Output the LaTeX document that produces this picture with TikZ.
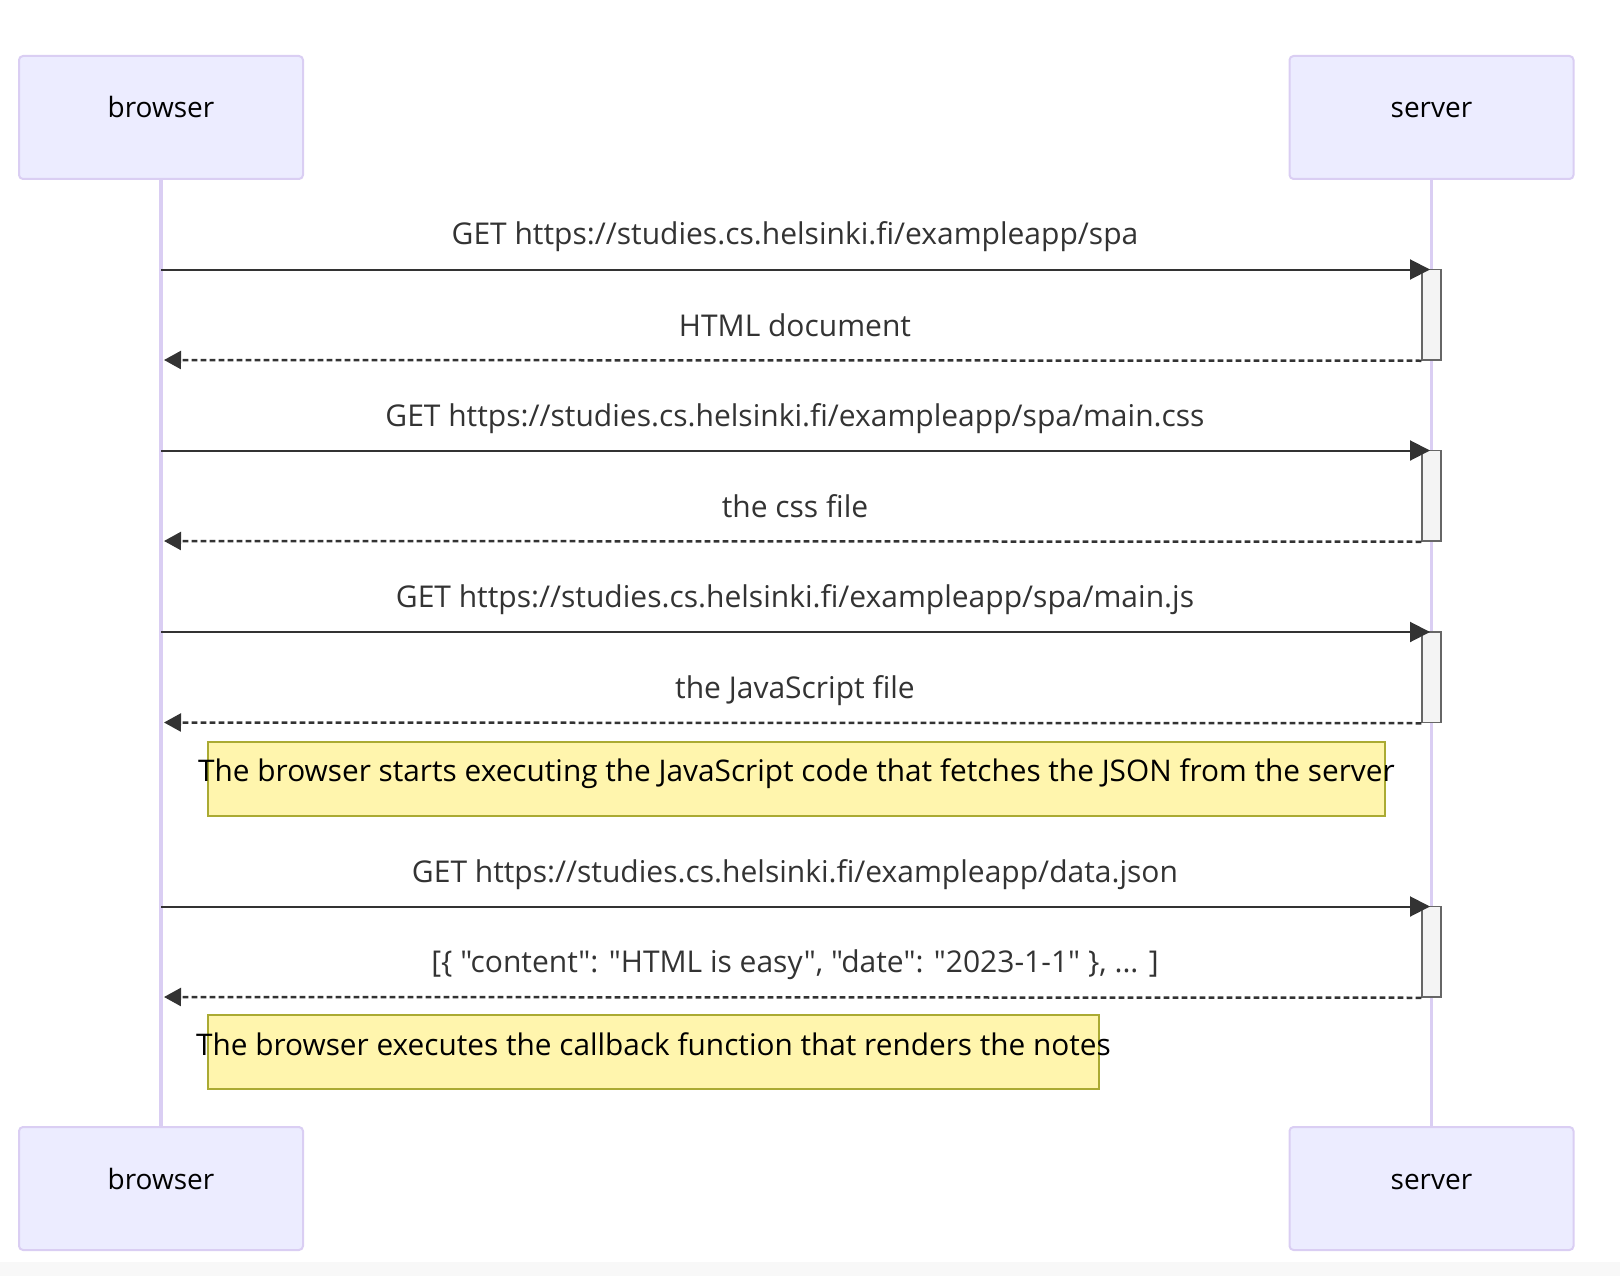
\documentclass[tikz,border=0pt]{standalone}
\usepackage{fontspec}
\newfontfamily\diagfont[Ligatures=NoCommon]{Open Sans}
\usetikzlibrary{arrows.meta}
\definecolor{actorfill}{HTML}{ECECFF}
\definecolor{actorline}{HTML}{DACEF3}
\definecolor{msgcol}{HTML}{333333}
\definecolor{actfill}{HTML}{F4F4F4}
\definecolor{actline}{HTML}{666666}
\definecolor{notefill}{HTML}{FFF5AD}
\definecolor{noteline}{HTML}{AAAA33}
\definecolor{bandgray}{HTML}{F8F8F8}
\begin{document}
\begin{tikzpicture}[x=1pt,y=-1pt,
  font=\diagfont\fontsize{28}{34}\selectfont,
  actorbox/.style={draw=actorline, fill=actorfill, line width=2pt, rounded corners=4pt,
    minimum width=284pt, minimum height=123pt, inner sep=0pt},
  actortext/.style={anchor=base, text=black, inner sep=0pt},
  lifeline/.style={draw=actorline, line width=3.5pt},
  actbox/.style={draw=actline, fill=actfill, line width=1.5pt, minimum width=19pt, inner sep=0pt},
  req/.style={draw=msgcol, line width=2pt, -{Triangle[length=20pt,width=20pt]}},
  resp/.style={draw=msgcol, line width=2.5pt, dash pattern=on 5.7pt off 3.3pt, -{Triangle[length=17pt,width=18pt]}},
  msglabel/.style={anchor=base, text=msgcol, inner sep=0pt, font=\diagfont\fontsize{30}{36}\selectfont},
  notebox/.style={draw=noteline, fill=notefill, line width=2pt, inner sep=0pt},
  notetext/.style={anchor=base, text=black, inner sep=0pt, font=\diagfont\fontsize{29.8}{36}\selectfont}]
\useasboundingbox (0,0) rectangle (1620,1276);
\fill[bandgray] (0,1262) rectangle (1620,1276);

% actors
\node[actorbox] (bTop) at (161,117.5) {};
\node[actorbox] (sTop) at (1431.5,117.5) {};
\node[actorbox] (bBot) at (161,1188.5) {};
\node[actorbox] (sBot) at (1431.5,1188.5) {};
\node[actortext] (bTopT) at (161,118) {browser};
\node[actortext] (sTopT) at (1431.5,118) {server};
\node[actortext] (bBotT) at (161,1189) {browser};
\node[actortext] (sBotT) at (1431.5,1189) {server};

% lifelines
\draw[lifeline] (bTop.south) -- (bBot.north);
\draw[lifeline] (sTop.south) -- (sBot.north);

% activations
\node[actbox, minimum height=90.5pt] (a1) at (1431.5,314.75) {};
\node[actbox, minimum height=90.5pt] (a2) at (1431.5,495.75) {};
\node[actbox, minimum height=90.5pt] (a3) at (1431.5,677.25) {};
\node[actbox, minimum height=90.5pt] (a4) at (1431.5,951.75) {};

% coordinates on lifelines
\coordinate (bq1) at (161,269.5);   \coordinate (sq1) at (1430,269.5);
\coordinate (br1) at (164,360);
\coordinate (bq2) at (161,450.5);   \coordinate (sq2) at (1430,450.5);
\coordinate (br2) at (164,541);
\coordinate (bq3) at (161,632);     \coordinate (sq3) at (1430,632);
\coordinate (br3) at (164,722.5);
\coordinate (bq4) at (161,906.5);   \coordinate (sq4) at (1430,906.5);
\coordinate (br4) at (164,997);

% messages
\draw[req] (bq1) -- (sq1);
\draw[resp] (a1.south west) -- (br1);
\draw[req] (bq2) -- (sq2);
\draw[resp] (a2.south west) -- (br2);
\draw[req] (bq3) -- (sq3);
\draw[resp] (a3.south west) -- (br3);
\draw[req] (bq4) -- (sq4);
\draw[resp] (a4.south west) -- (br4);

\node[msglabel] (m1) at (795,245) {GET https://studies.cs.helsinki.fi/exampleapp/spa};
\node[msglabel] (m2) at (795,336) {HTML document};
\node[msglabel] (m3) at (795,426) {GET https://studies.cs.helsinki.fi/exampleapp/spa/main.css};
\node[msglabel] (m4) at (795,517) {the css file};
\node[msglabel] (m5) at (795,607.5) {GET https://studies.cs.helsinki.fi/exampleapp/spa/main.js};
\node[msglabel] (m6) at (795,698) {the JavaScript file};
\node[msglabel] (m7) at (795,882) {GET https://studies.cs.helsinki.fi/exampleapp/data.json};
\node[msglabel] (m8) at (795,972.5) {[\{ "content": "HTML is easy", "date": "2023-1-1" \}, ... ]};

% notes
\node[notebox, minimum width=1177pt, minimum height=74pt] (n1) at (796.5,778.5) {};
\node[notetext] (n1t) at (796.5,781.7) {The browser starts executing the JavaScript code that fetches the JSON from the server};
\node[notebox, minimum width=891pt, minimum height=74pt] (n2) at (653.5,1052) {};
\node[notetext] (n2t) at (653.5,1055) {The browser executes the callback function that renders the notes};
\end{tikzpicture}
\end{document}
